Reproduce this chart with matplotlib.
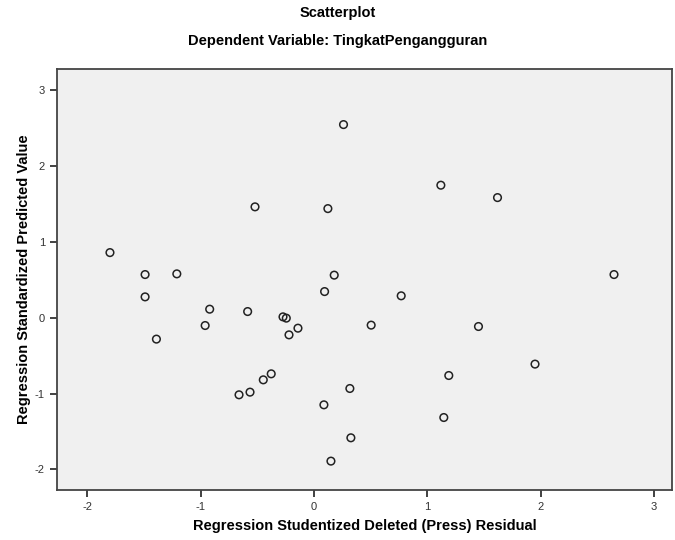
import matplotlib
matplotlib.use('Agg')
import matplotlib.pyplot as plt

plt.rcParams['font.family'] = ['Liberation Sans', 'DejaVu Sans']
plt.rcParams['axes.unicode_minus'] = False

# studentized deleted residual (x) vs standardized predicted value (y)
resid = [-1.80, -1.49, -1.21, -1.49, -1.39, -0.92, -0.96, -0.585, -0.52,
         -0.273, -0.244, -0.22, -0.141, -0.377, -0.447, -0.564, -0.661,
         0.123, 0.179, 0.094, 0.088, 0.15, 0.261, 1.12, 1.62, 2.648,
         0.77, 0.505, 1.452, 1.951, 1.19, 0.317, 1.146, 0.326]
pred = [0.855, 0.566, 0.575, 0.272, -0.284, 0.11, -0.105, 0.079, 1.457,
        0.009, -0.008, -0.228, -0.14, -0.741, -0.82, -0.982, -1.017,
        1.434, 0.558, 0.342, -1.149, -1.89, 2.54, 1.742, 1.579, 0.566,
        0.286, -0.1, -0.118, -0.613, -0.763, -0.934, -1.316, -1.583]

fig = plt.figure(figsize=(6.75, 5.4), dpi=100)
ax = fig.add_axes([0.084, 0.0926, 0.9116, 0.7794])
ax.set_facecolor('#F0F0F0')

ax.scatter(resid, pred, s=30, facecolors='none', edgecolors='#222222', linewidths=1.1)

ax.set_xlim(-2.27, 3.16)
ax.set_ylim(-2.27, 3.27)
ax.set_xticks([-2, -1, 0, 1, 2, 3])
ax.set_yticks([-2, -1, 0, 1, 2, 3])
ax.tick_params(direction='out', length=5, width=1.3, labelsize=8, colors='#333333',
               top=False, right=False)
for s in ax.spines.values():
    s.set_color('#444444')
    s.set_linewidth(1.3)

ax.set_xlabel('Regression Studentized Deleted (Press) Residual', fontsize=10.5,
              fontweight='bold', labelpad=5)
ax.set_ylabel('Regression Standardized Predicted Value', fontsize=10.5,
              fontweight='bold', labelpad=3)

fig.text(0.5, 0.975, 'Scatterplot', ha='center', va='center', fontsize=10.5, fontweight='bold')
fig.text(0.5, 0.925, 'Dependent Variable: TingkatPengangguran', ha='center', va='center',
         fontsize=10.5, fontweight='bold')

fig.savefig('out.png', dpi=100)
